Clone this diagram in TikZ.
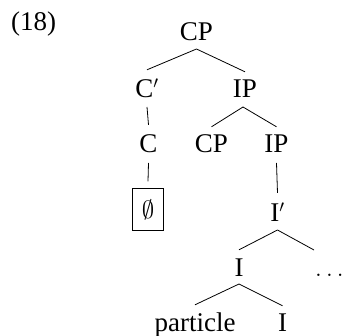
\documentclass[tikz,border=0pt]{standalone}
\usepackage{fontspec}
\setmainfont{Liberation Serif}
\begin{document}
\begin{tikzpicture}[x=1pt,y=-1pt,
  lab/.style={inner sep=0pt, text height=18pt, text depth=0pt, anchor=base, font=\fontsize{27}{32}\selectfont},
  br/.style={line width=0.8pt},
  boxed/.style={draw, line width=1.4pt, minimum width=30.5pt, minimum height=41.5pt, inner sep=0pt, font=\fontsize{28.5}{30}\selectfont}
  ]
\useasboundingbox (0,0) rectangle (343,336);
\node[lab, anchor=base west] (ex) at (11,31) {(18)};
\node[lab] (cp) at (196.5,41) {CP};
\node[lab] (cbar) at (147,98) {C$'$};
\node[lab] (ip) at (245,98) {IP};
\node[lab] (c) at (148.5,153) {C};
\node[lab] (cp2) at (211.5,153) {CP};
\node[lab] (ip2) at (276.5,153) {IP};
\node[boxed] (empty) at (148,209.5) {$\emptyset$};
\node[lab] (ibar) at (277.5,222) {I$'$};
\node[lab] (imid) at (239,277) {I};
\node[lab] (dots) at (329.5,277) {$\ldots$};
\coordinate (dotsend) at (314,250);
\node[lab] (part) at (195,332) {particle};
\node[lab] (ilow) at (282.5,332) {I};

\draw[br] ([yshift=-8pt]cp.base) -- ([yshift=10pt]cbar.north);
\draw[br] ([yshift=-8pt]cp.base) -- ([yshift=8pt]ip.north);
\draw[br] ([yshift=-9pt]cbar.base) -- ([yshift=10pt]c.north);
\draw[br] ([xshift=-2pt,yshift=-9pt]ip.base) -- ([yshift=8pt]cp2.north);
\draw[br] ([xshift=-2pt,yshift=-9pt]ip.base) -- ([yshift=8pt]ip2.north);
\draw[br] ([yshift=-10pt]c.base) -- ([yshift=6.75pt]empty.north);
\draw[br] ([yshift=-10pt]ip2.base) -- ([yshift=11pt]ibar.north);
\draw[br] ([yshift=-8pt]ibar.base) -- ([yshift=9pt]imid.north);
\draw[br] ([yshift=-8pt]ibar.base) -- (dotsend);
\draw[br] ([yshift=-7pt]imid.base) -- ([yshift=9pt]part.north);
\draw[br] ([yshift=-7pt]imid.base) -- ([yshift=8pt]ilow.north);
\end{tikzpicture}
\end{document}
